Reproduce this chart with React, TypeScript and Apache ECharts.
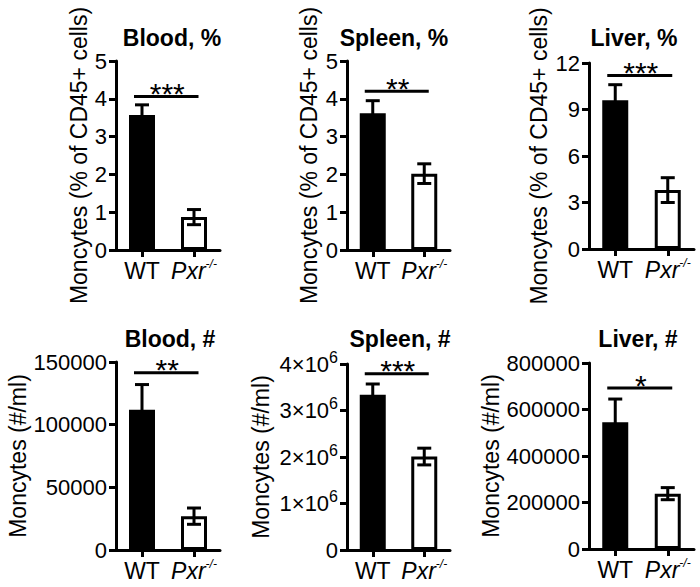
import React, { useEffect, useRef } from "react";
import * as echarts from "echarts";

// ---- data ----
const categories = ["WT", "Pxr"];
const panelTitles = ["Blood, %", "Spleen, %", "Liver, %", "Blood, #", "Spleen, #", "Liver, #"];
const yNames = [
  "Moncytes (% of CD45+ cells)",
  "Moncytes (% of CD45+ cells)",
  "Moncytes (% of CD45+ cells)",
  "Moncytes (#/ml)",
  "Moncytes (#/ml)",
  "Moncytes (#/ml)",
];
const yMax = [5, 5, 12, 150000, 4000000, 800000];
const yInterval = [1, 1, 3, 50000, 1000000, 200000];

// means [WT, Pxr-/-]
const bloodPctMean = [3.57, 0.87];
const spleenPctMean = [3.62, 2.02];
const liverPctMean = [9.6, 3.8];
const bloodNumMean = [112000, 27000];
const spleenNumMean = [3340000, 2010000];
const liverNumMean = [545000, 238000];
// SEM [WT, Pxr-/-]
const bloodPctSem = [0.27, 0.2];
const spleenPctSem = [0.33, 0.26];
const liverPctSem = [1.0, 0.8];
const bloodNumSem = [20000, 6500];
const spleenNumSem = [230000, 180000];
const liverNumSem = [100000, 26000];

const sigLevels = [4.06, 4.2, 11.2, 141500, 3790000, 692000];
const sigStars = ["***", "**", "***", "**", "***", "*"];

const means = [bloodPctMean, spleenPctMean, liverPctMean, bloodNumMean, spleenNumMean, liverNumMean];
const sems = [bloodPctSem, spleenPctSem, liverPctSem, bloodNumSem, spleenNumSem, liverNumSem];

// ---- layout (pixels) ----
const grids = [
  { left: 116, top: 61, width: 104, height: 189 },
  { left: 347, top: 61, width: 103, height: 189 },
  { left: 589, top: 63, width: 105, height: 186 },
  { left: 116, top: 362, width: 104, height: 188 },
  { left: 347, top: 364, width: 103, height: 186 },
  { left: 589, top: 363, width: 105, height: 186 },
];
const nameGaps = [26, 27, 39, 73, 75, 87];
const titlePos = [
  [172, 38],
  [394, 38],
  [634, 38],
  [170, 339],
  [400, 339],
  [638, 339],
];

const FONT = "'Liberation Sans', Arial, Helvetica, sans-serif";

export default function App() {
  const ref = useRef<HTMLDivElement>(null);
  useEffect(() => {
    if (!ref.current) return;
    const chart = echarts.init(ref.current, undefined, { renderer: "svg" });

    const axisLineStyle = { color: "#000", width: 3 };

    const xAxis = grids.map((_, i) => ({
      type: "category",
      gridIndex: i,
      data: categories,
      axisLine: { show: true, lineStyle: axisLineStyle },
      axisTick: { show: true, alignWithLabel: true, length: 7, lineStyle: axisLineStyle },
      axisLabel: {
        margin: 7,
        interval: 0,
        color: "#000",
        fontFamily: FONT,
        formatter: (v: string) => (v === "WT" ? "{n|WT}" : "{i|Pxr}{s|-/-}"),
        rich: {
          n: { fontSize: 23, lineHeight: 28, fontFamily: FONT, color: "#000" },
          i: { fontSize: 23, lineHeight: 28, fontStyle: "italic", fontFamily: FONT, color: "#000" },
          s: {
            fontSize: 12,
            lineHeight: 12,
            verticalAlign: "top",
            padding: [1, 0, 0, 0],
            fontStyle: "italic",
            fontFamily: FONT,
            color: "#000",
          },
        },
      },
      splitLine: { show: false },
    }));

    const yAxis = grids.map((_, i) => ({
      type: "value",
      gridIndex: i,
      min: 0,
      max: yMax[i],
      interval: yInterval[i],
      name: yNames[i],
      nameLocation: "middle",
      nameRotate: 90,
      nameGap: nameGaps[i],
      nameTextStyle: { fontSize: 23, color: "#000", fontFamily: FONT },
      axisLine: { show: true, onZero: false, lineStyle: axisLineStyle },
      axisTick: { show: true, length: 7, lineStyle: axisLineStyle },
      splitLine: { show: false },
      axisLabel: {
        margin: 9,
        fontSize: 22,
        color: "#000",
        fontFamily: FONT,
        formatter:
          i === 4
            ? (v: number) => (v === 0 ? "0" : `{b|${Math.round(v / 1e6)}×10}{s|6}`)
            : (v: number) => String(v),
        rich:
          i === 4
            ? {
                b: { fontSize: 22, lineHeight: 30, fontFamily: FONT, color: "#000" },
                s: { fontSize: 16, lineHeight: 16, verticalAlign: "top", fontFamily: FONT, color: "#000" },
              }
            : undefined,
      },
    }));

    const series: any[] = [];
    grids.forEach((_, i) => {
      series.push({
        type: "bar",
        xAxisIndex: i,
        yAxisIndex: i,
        barWidth: 26,
        data: means[i].map((v, k) => ({
          value: v,
          itemStyle: { color: k === 0 ? "#000" : "#fff", borderColor: "#000", borderWidth: 3 },
        })),
        silent: true,
      });
      series.push({
        type: "custom",
        xAxisIndex: i,
        yAxisIndex: i,
        encode: { x: 0, y: [1, 2] },
        data: means[i].map((m, k) => [k, m - sems[i][k], m + sems[i][k]]),
        renderItem: (params: any, api: any) => {
          const x = api.value(0);
          const lo = api.coord([x, api.value(1)]);
          const hi = api.coord([x, api.value(2)]);
          const cw = 7;
          const st = { stroke: "#000", lineWidth: 3, fill: "none" };
          return {
            type: "group",
            children: [
              { type: "line", shape: { x1: lo[0], y1: lo[1], x2: hi[0], y2: hi[1] }, style: st },
              { type: "line", shape: { x1: hi[0] - cw, y1: hi[1], x2: hi[0] + cw, y2: hi[1] }, style: st },
              { type: "line", shape: { x1: lo[0] - cw, y1: lo[1], x2: lo[0] + cw, y2: lo[1] }, style: st },
            ],
          };
        },
        z: 3,
        silent: true,
      });
      series.push({
        type: "custom",
        xAxisIndex: i,
        yAxisIndex: i,
        encode: { x: 0, y: 2 },
        data: [[0, 1, sigLevels[i]]],
        renderItem: (params: any, api: any) => {
          const p0 = api.coord([api.value(0), api.value(2)]);
          const p1 = api.coord([api.value(1), api.value(2)]);
          const x0 = p0[0] - 8;
          const x1 = p1[0] + 4.5;
          return {
            type: "group",
            children: [
              {
                type: "line",
                shape: { x1: x0, y1: p0[1], x2: x1, y2: p0[1] },
                style: { stroke: "#000", lineWidth: 3 },
              },
              {
                type: "text",
                style: {
                  text: sigStars[i],
                  x: (x0 + x1) / 2 + 1,
                  y: p0[1] - 3,
                  align: "center",
                  verticalAlign: "middle",
                  fontSize: 30,
                  fontFamily: FONT,
                  fill: "#000",
                },
              },
            ],
          };
        },
        z: 3,
        silent: true,
      });
    });

    const option: any = {
      animation: false,
      backgroundColor: "#fff",
      title: panelTitles.map((t, i) => ({
        text: t,
        left: titlePos[i][0],
        top: titlePos[i][1],
        textAlign: "center",
        textVerticalAlign: "middle",
        padding: 0,
        textStyle: { fontSize: 23, fontWeight: "bold", color: "#000", fontFamily: FONT },
      })),
      grid: grids.map((g) => ({ ...g, containLabel: false })),
      xAxis,
      yAxis,
      series,
    };
    chart.setOption(option);
    return () => chart.dispose();
  }, []);

  return (
    <div
      ref={ref}
      style={{ position: "absolute", left: 0, top: 0, width: 700, height: 587, background: "#fff" }}
    />
  );
}
